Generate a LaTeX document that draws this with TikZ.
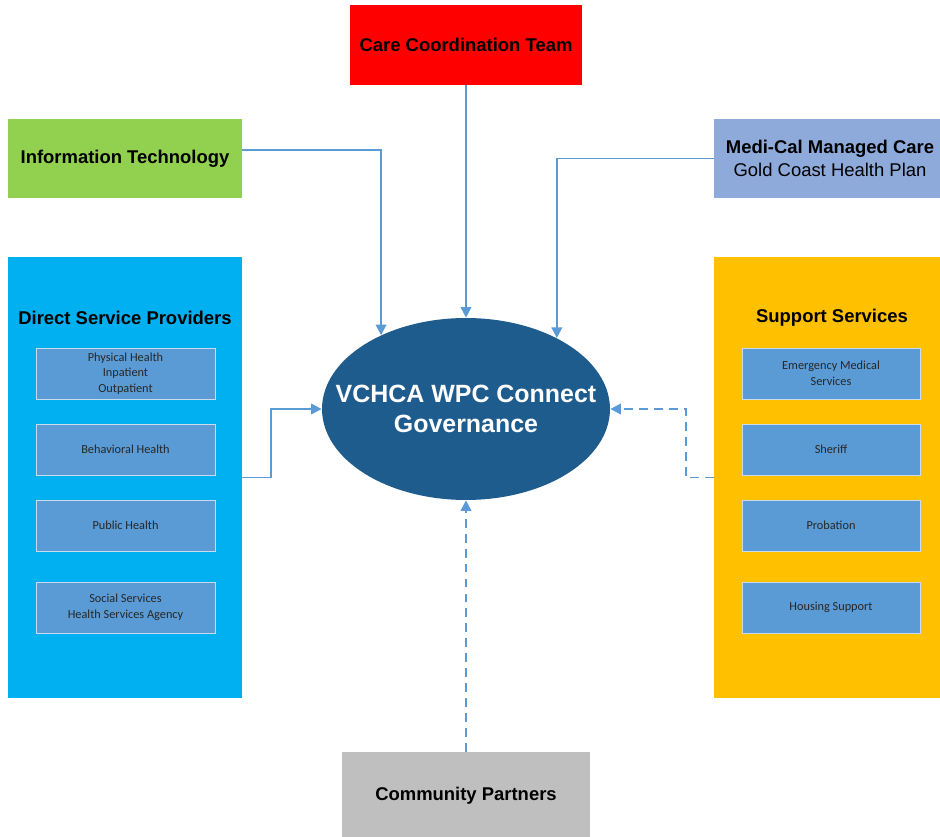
\documentclass[tikz,border=0pt]{standalone}
\usepackage{fontspec}
\setmainfont{Liberation Sans}
\newfontfamily\smallfont{Carlito}
\usetikzlibrary{arrows.meta,shapes.geometric}
\definecolor{ccred}{HTML}{FF0000}
\definecolor{itgreen}{HTML}{92D050}
\definecolor{mcblue}{HTML}{8EAADB}
\definecolor{dspblue}{HTML}{00B0F0}
\definecolor{ssyellow}{HTML}{FFC000}
\definecolor{subblue}{HTML}{5B9BD5}
\definecolor{subline}{HTML}{C9DCEF}
\definecolor{hubblue}{HTML}{1F5C8E}
\definecolor{linkblue}{HTML}{5B9BD5}
\definecolor{cpgray}{HTML}{BFBFBF}
\tikzset{
	box/.style = {rectangle, align=center, inner sep=0pt, font=\fontsize{10.5}{13}\selectfont\bfseries},
	topbox/.style = {box, minimum height=1.58cm},
	panel/.style = {rectangle, minimum width=4.68cm, minimum height=8.82cm},
	subbox/.style = {rectangle, align=center, fill=subblue, draw=subline, line width=0.4pt, minimum width=3.58cm, minimum height=1.02cm, inner sep=0pt, font=\smallfont\fontsize{7}{8.8}\selectfont, text=black!85},
	hub/.style = {ellipse, fill=hubblue, minimum width=5.76cm, minimum height=3.64cm, inner sep=0pt},
	hubtext/.style = {align=center, text=white, inner sep=0pt, font=\fontsize{14.2}{17}\selectfont\bfseries},
	link/.style = {draw=linkblue, line width=1.1pt, -{Triangle[length=6pt,width=6pt]}},
	weaklink/.style = {link, dash pattern=on 5pt off 3.5pt}
}
\begin{document}
\begin{tikzpicture}[x=0.02cm, y=-0.02cm]
	\useasboundingbox (0,0) rectangle (940,837);
	% outer boxes
	\node [topbox, fill=ccred, minimum width=4.66cm, minimum height=1.6cm] (cct) at (466,45) {Care Coordination Team};
	\node [topbox, fill=itgreen, minimum width=4.68cm] (it) at (125,158.5) {Information Technology};
	\node [topbox, fill=mcblue, minimum width=4.64cm] (mc) at (830,158.5) {Medi-Cal Managed Care\\{\mdseries Gold Coast Health Plan}};
	\node [topbox, fill=cpgray, minimum width=4.98cm, minimum height=1.76cm] (cp) at (466,796) {Community Partners};
	% side panels
	\node [panel, fill=dspblue] (dsp) at (125,477.5) {};
	\node [panel, fill=ssyellow, minimum width=4.64cm] (ss) at (830,477.5) {};
	\node [box] (dsptitle) at (125,318) {Direct Service Providers};
	\node [box] (sstitle) at (832,318) {Support Services};
	\node [subbox] (phys) at (125.5,373.5) {Physical Health\\Inpatient\\Outpatient};
	\node [subbox] (behav) at (125.5,449.5) {Behavioral Health};
	\node [subbox] (pubh) at (125.5,525.5) {Public Health};
	\node [subbox] (social) at (125.5,607.5) {Social Services\\Health Services Agency};
	\node [subbox, minimum width=3.56cm] (ems) at (831,373.5) {Emergency Medical\\Services};
	\node [subbox, minimum width=3.56cm] (sheriff) at (831,449.5) {Sheriff};
	\node [subbox, minimum width=3.56cm] (prob) at (831,525.5) {Probation};
	\node [subbox, minimum width=3.56cm] (housing) at (831,607.5) {Housing Support};
	% governance
	\node [hub] (gov) at (466,409) {};
	\node [hubtext] (govlabel) at (gov) {VCHCA WPC Connect\\Governance};
	% connectors
	\draw [link] (cct) -- (gov);
	\draw [link] ([yshift=0.17cm]it.east) -| (gov.139);
	\draw [link] (mc.west) -| (gov.38);
	\draw [link] (dsp.east) -- ++(29,0) |- (gov.west);
	\draw [weaklink] (ss.west) -- ++(-28,0) |- (gov.east);
	\draw [weaklink] (cp) -- (gov);
\end{tikzpicture}
\end{document}
